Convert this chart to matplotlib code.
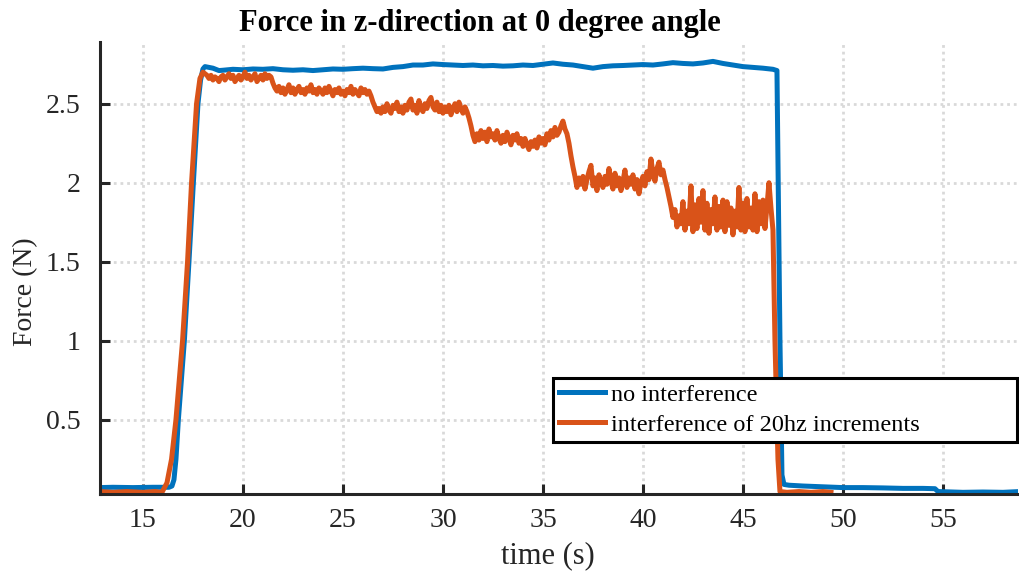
import numpy as np
import matplotlib
matplotlib.use("Agg")
import matplotlib.pyplot as plt

# ---------------- data ----------------
blue_t = [12.85, 13.5, 14.5, 15.5, 16.3, 16.45, 16.55, 16.65, 16.77, 17.07, 17.3, 17.52, 17.75, 17.88,
          18.0, 18.1, 18.5, 18.8, 19.0, 19.5, 20.0, 20.5, 21.0, 21.5, 22.0, 22.5, 23.0, 23.5, 24.0,
          24.5, 25.0, 25.5, 26.0, 26.5, 27.0, 27.5, 28.0, 28.5, 29.0, 29.5, 30.0, 30.5, 31.0, 31.5,
          32.0, 32.5, 33.0, 33.5, 34.0, 34.5, 35.0, 35.5, 36.0, 36.5, 37.0, 37.5, 38.0, 38.5, 39.0,
          39.5, 40.0, 40.5, 41.0, 41.5, 42.0, 42.5, 43.0, 43.5, 44.0, 44.5, 45.0, 45.5, 46.0, 46.5,
          46.7, 46.85, 46.95, 47.05, 47.3, 48.0, 49.0, 50.0, 51.0, 52.0, 53.0, 54.0, 54.6, 54.75,
          56.0, 57.0, 58.0, 58.85]
blue_force = [0.070, 0.072, 0.070, 0.072, 0.072, 0.080, 0.12, 0.25, 0.50, 1.00, 1.50, 2.00, 2.50, 2.65,
              2.72, 2.735, 2.725, 2.710, 2.712, 2.718, 2.715, 2.720, 2.718, 2.722, 2.715, 2.712, 2.715,
              2.710, 2.715, 2.720, 2.718, 2.722, 2.725, 2.722, 2.720, 2.730, 2.735, 2.745, 2.745, 2.752,
              2.748, 2.745, 2.742, 2.745, 2.740, 2.742, 2.738, 2.740, 2.745, 2.742, 2.750, 2.758, 2.750,
              2.745, 2.735, 2.725, 2.735, 2.740, 2.742, 2.745, 2.748, 2.745, 2.752, 2.760, 2.755, 2.752,
              2.758, 2.768, 2.755, 2.745, 2.735, 2.730, 2.725, 2.718,
              2.710, 1.00, 0.15, 0.090, 0.085, 0.080, 0.075, 0.070, 0.070, 0.068, 0.065, 0.065, 0.063,
              0.045, 0.040, 0.042, 0.040, 0.045]

orange_pre_t = [12.85, 13.5, 14.2, 15.0, 15.6, 15.95]
orange_pre_force = [0.045, 0.040, 0.045, 0.040, 0.045, 0.040]
orange_rise_t = [16.2, 16.43, 16.65, 16.98, 17.23, 17.43, 17.68, 17.85]
orange_rise_force = [0.10, 0.25, 0.50, 1.00, 1.50, 2.00, 2.50, 2.66]
orange_plateau_t = np.arange(180, 465) / 10.0   # samples every 0.1 s, 18.0 ... 46.4
orange_plateau_force = [
    2.70, 2.69, 2.68, 2.66, 2.68, 2.65, 2.67, 2.66, 2.64, 2.67,
    2.68, 2.65, 2.67, 2.69, 2.66, 2.68, 2.64, 2.66, 2.68, 2.65,
    2.67, 2.70, 2.66, 2.68, 2.65, 2.67, 2.69, 2.64, 2.66, 2.68,
    2.65, 2.69, 2.66, 2.68, 2.67, 2.63, 2.60, 2.58, 2.61, 2.57,
    2.60, 2.56, 2.59, 2.62, 2.57, 2.60, 2.56, 2.59, 2.61, 2.57,
    2.59, 2.56, 2.60, 2.58, 2.62, 2.57, 2.59, 2.56, 2.60, 2.58,
    2.56, 2.60, 2.57, 2.61, 2.58, 2.55, 2.59, 2.57, 2.60, 2.56,
    2.58, 2.55, 2.59, 2.57, 2.61, 2.56, 2.59, 2.57, 2.55, 2.60,
    2.57, 2.59, 2.56, 2.58, 2.55, 2.51, 2.48, 2.45, 2.47, 2.44,
    2.48, 2.45, 2.50, 2.46, 2.44, 2.49, 2.47, 2.51, 2.45, 2.48,
    2.44, 2.49, 2.46, 2.51, 2.53, 2.46, 2.49, 2.44, 2.52, 2.47,
    2.45, 2.50, 2.47, 2.52, 2.54, 2.48, 2.46, 2.51, 2.45, 2.49,
    2.44, 2.48, 2.45, 2.49, 2.43, 2.47, 2.50, 2.45, 2.51, 2.47,
    2.44, 2.48, 2.45, 2.41, 2.36, 2.30, 2.26, 2.31, 2.27, 2.33,
    2.28, 2.32, 2.26, 2.34, 2.29, 2.31, 2.27, 2.33, 2.28, 2.25,
    2.30, 2.26, 2.32, 2.28, 2.24, 2.30, 2.27, 2.31, 2.25, 2.28,
    2.23, 2.28, 2.24, 2.21, 2.26, 2.23, 2.27, 2.22, 2.29, 2.25,
    2.28, 2.24, 2.31, 2.27, 2.33, 2.29, 2.35, 2.30, 2.32, 2.36,
    2.39, 2.34, 2.31, 2.25, 2.17, 2.10, 2.04, 1.97, 2.03, 1.99,
    2.04, 1.96, 2.02, 2.07, 2.11, 1.98, 2.03, 1.95, 2.05, 2.00,
    1.97, 2.04, 1.99, 2.09, 2.01, 1.96, 2.06, 1.98, 2.03, 1.95,
    2.01, 2.08, 1.97, 2.03, 1.99, 2.05, 1.96, 2.02, 1.93, 2.00,
    2.04, 1.98, 2.07, 2.02, 2.15, 2.06, 2.01, 2.09, 2.13, 2.05,
    2.08, 2.02, 1.97, 1.91, 1.85, 1.78, 1.83, 1.72, 1.79, 1.74,
    1.88, 1.70, 1.82, 1.74, 1.98, 1.69, 1.86, 1.71, 1.90, 1.75,
    1.95, 1.70, 1.87, 1.68, 1.83, 1.74, 1.91, 1.70, 1.85, 1.72,
    1.89, 1.69, 1.88, 1.73, 1.84, 1.67, 1.82, 1.72, 1.97, 1.70,
    1.87, 1.69, 1.90, 1.72, 1.84, 1.70, 1.93, 1.69, 1.88, 1.74,
    1.89, 1.71, 1.85, 2.00, 1.84]
orange_drop_t = [46.5, 46.6, 46.75, 46.85, 47.2, 47.8, 48.4, 49.0, 49.4]
orange_drop_force = [1.70, 1.00, 0.25, 0.045, 0.040, 0.045, 0.040, 0.045, 0.040]

orange_t = list(orange_pre_t) + list(orange_rise_t) + list(orange_plateau_t) + list(orange_drop_t)
orange_force = orange_pre_force + orange_rise_force + orange_plateau_force + orange_drop_force

series_labels = ["no interference", "interference of 20hz increments"]
x_ticks = [15, 20, 25, 30, 35, 40, 45, 50, 55]
y_ticks = [0.5, 1.0, 1.5, 2.0, 2.5]
y_tick_labels = ["0.5", "1", "1.5", "2", "2.5"]
title_text = "Force in z-direction at 0 degree angle"
x_label = "time (s)"
y_label = "Force (N)"

# ---------------- style ----------------
plt.rcParams['font.family'] = ['Liberation Serif', 'DejaVu Serif']
dark = "#262626"
blue = "#0072BD"
orange = "#D95319"

fig = plt.figure(figsize=(10.2, 5.77), dpi=100)
ax = fig.add_axes([0.098, 0.144, 0.9, 0.783])

ax.plot(blue_t, blue_force, color=blue, lw=3.6, label=series_labels[0], solid_joinstyle='round')
ax.plot(orange_t, orange_force, color=orange, lw=3.6, label=series_labels[1], solid_joinstyle='round')

ax.set_xlim(12.85, 58.75)
ax.set_ylim(0.03, 2.89)
ax.set_xticks(x_ticks)
ax.set_yticks(y_ticks)
ax.set_yticklabels(y_tick_labels)

ax.grid(True, color="#d9d9d9", lw=2.0, linestyle=(0, (1.0, 1.4)))
ax.set_axisbelow(True)

for s in ["top", "right"]:
    ax.spines[s].set_visible(False)
for s in ["left", "bottom"]:
    ax.spines[s].set_color(dark)
    ax.spines[s].set_linewidth(2.2)

ax.tick_params(axis="both", direction="in", length=7, width=2.2, colors=dark,
               labelsize=20, labelcolor=dark)
ax.tick_params(axis="y", pad=14)
ax.tick_params(axis="x", pad=10)

ax.set_title(title_text, fontsize=22, fontweight="bold", color="black", pad=8, x=0.414)
ax.set_xlabel(x_label, fontsize=22, color=dark)
ax.set_ylabel(y_label, fontsize=20, color=dark)
ax.xaxis.set_label_coords(0.488, -0.105)
ax.yaxis.set_label_coords(-0.067, 0.447)

leg = ax.legend(loc="upper left", bbox_to_anchor=(0.4935, 0.1166, 0.5052, 0.14), mode="expand",
                borderaxespad=0, fontsize=17.5, frameon=True, fancybox=False, framealpha=1,
                edgecolor="black", handlelength=1.9, handletextpad=0.25,
                borderpad=0.24, labelspacing=0.33)
leg.get_frame().set_linewidth(2.2)
for line in leg.get_lines():
    line.set_linewidth(3.6)

fig.savefig("out.png", dpi=100)
